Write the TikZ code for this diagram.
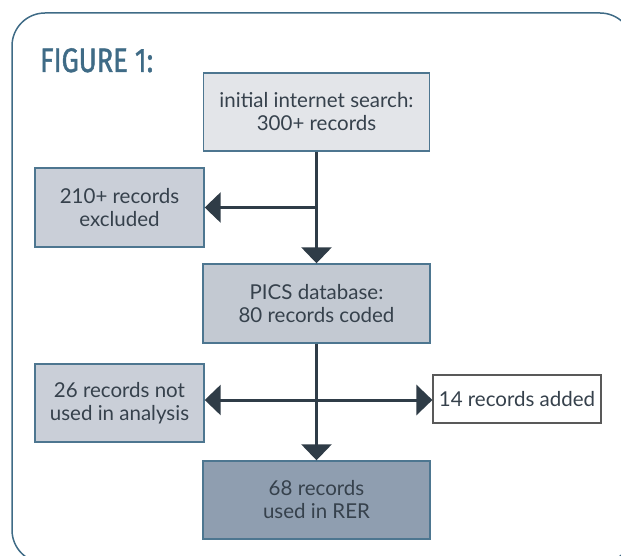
\documentclass[tikz,border=0pt]{standalone}
\usepackage{fontspec}
\setmainfont{Lato}
\newfontfamily\titlefont[FakeStretch=0.8,FakeBold=1.2]{Fira Sans}
\usetikzlibrary{arrows.meta}
\definecolor{frame}{HTML}{3F6B86}
\definecolor{boxline}{HTML}{4D7690}
\definecolor{ink}{HTML}{36414C}
\definecolor{conn}{HTML}{2F3C47}
\definecolor{fillA}{HTML}{E3E5E9}
\definecolor{fillB}{HTML}{CACFD8}
\definecolor{fillC}{HTML}{C3C9D2}
\definecolor{fillD}{HTML}{8F9EB0}
\begin{document}
\begin{tikzpicture}[x=1pt,y=-1pt,
  flowbox/.style={draw=boxline,line width=1.4pt,text=ink,align=center,
    font=\fontsize{20.5}{23}\selectfont,inner sep=0pt},
  conline/.style={draw=conn,line width=3pt},
  conarrow/.style={conline,-{Triangle[width=30pt,length=16pt]}}]
\useasboundingbox (0,0) rectangle (621,556);
\begin{scope}
\clip (0,0) rectangle (621,556);
\draw[frame,line width=1.5pt,rounded corners=33pt] (12,13) rectangle (633,563);
\end{scope}
\node[anchor=base west,text=frame,font=\titlefont\fontsize{34}{34}\selectfont,inner sep=0pt] (title) at (40,72) {FIGURE 1:};
\node[flowbox,fill=fillA,minimum width=226pt,minimum height=78pt] (init) at (316.5,112) {initial internet search:\\300+ records};
\node[flowbox,fill=fillB,minimum width=169pt,minimum height=79pt] (excl) at (119.5,207.5) {210+ records\\excluded};
\node[flowbox,fill=fillC,minimum width=227pt,minimum height=79pt] (pics) at (316.5,303.5) {PICS database:\\80 records coded};
\node[flowbox,fill=fillB,minimum width=169pt,minimum height=78pt] (notused) at (119.5,403) {26 records not\\used in analysis};
\node[flowbox,draw=gray!70!black,line width=1.2pt,fill=white,minimum width=168pt,minimum height=48pt] (added) at (517,399) {14 records added};
\node[flowbox,fill=fillD,minimum width=227pt,minimum height=78pt] (rer) at (316.5,500) {68 records\\used in RER};
\coordinate (j1) at (init.south |- excl.east);
\coordinate (j2) at (316.5,400);
\draw[conarrow] (init.south) -- (pics.north);
\draw[conarrow] (j1) -- (excl.east);
\draw[conarrow] (pics.south) -- (rer.north);
\draw[conarrow] (j2) -- (j2 -| notused.east);
\draw[conarrow] (j2) -- (j2 -| added.west);
\end{tikzpicture}
\end{document}
